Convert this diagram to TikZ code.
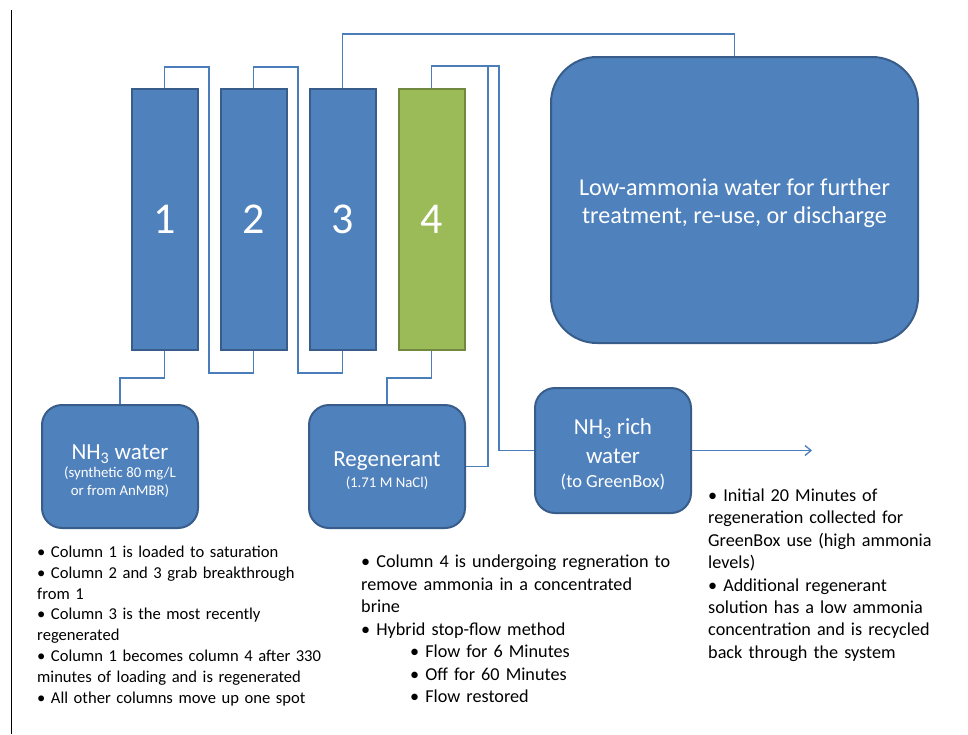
\documentclass[tikz,border=0pt]{standalone}
\usepackage{fontspec}
\setmainfont{Carlito}
\usetikzlibrary{arrows.meta}
\definecolor{boxblue}{HTML}{4F81BD}
\definecolor{boxedge}{HTML}{385D8A}
\definecolor{colgreen}{HTML}{9BBB59}
\definecolor{greenedge}{HTML}{71893F}
\definecolor{pipecol}{HTML}{4A7EBB}
\newcommand{\fbig}{\fontsize{23}{27}\selectfont}
\newcommand{\fsmall}{\fontsize{14.8}{18}\selectfont}
\newcommand{\fmid}{\fontsize{18.5}{24}\selectfont}
\newcommand{\strutdown}{\rule{0pt}{24pt}}
\begin{document}
\begin{tikzpicture}[x=1pt,y=-1pt,
  colbox/.style={draw=boxedge, fill=boxblue, line width=2pt, minimum width=66pt,
    minimum height=261pt, inner sep=0pt, text=white, font=\fontsize{44}{48}\selectfont},
  greencol/.style={colbox, draw=greenedge, fill=colgreen},
  tank/.style={draw=boxedge, fill=boxblue, line width=2pt, rounded corners=20pt,
    inner sep=0pt, text=white, align=center, font=\fbig},
  pipe/.style={draw=pipecol, line width=1.3pt},
  notes/.style={anchor=base west, inner sep=0pt, align=left, text width=#1},
]
\useasboundingbox (0,0) rectangle (968,734);
\fill[white] (0,0) rectangle (968,734);
\draw[line width=1pt, black] (11,10) -- (11,734);

% columns
\node[colbox] (c1) at (164.5,219.5) {1};
\node[colbox] (c2) at (253.5,219.5) {2};
\node[colbox] (c3) at (342.5,219.5) {3};
\node[greencol] (c4) at (431.5,219.5) {4};

% boxes
\node[tank, minimum width=156pt, minimum height=123pt] (nh3) at (120,466.5)
  {\strutdown NH\textsubscript{3} water\\[-9pt]
   \fsmall (synthetic 80 mg/L\\[-9pt] \fsmall or from AnMBR)};
\node[tank, minimum width=156pt, minimum height=123pt] (reg) at (387,466.5)
  {\strutdown Regenerant\\[-6pt]
   \fsmall (1.71 M NaCl)};
\node[tank, minimum width=156pt, minimum height=125pt] (rich) at (613,450.5)
  {\strutdown NH\textsubscript{3} rich\\[2pt] water\\[-3pt]
   \fmid (to GreenBox)};
\node[tank, rounded corners=46pt, minimum width=367pt, minimum height=286pt,
  font=\fontsize{24.2}{28}\selectfont] (big) at (734.5,200)
  {\rule{0pt}{24pt}Low-ammonia water for further\\treatment, re-use, or discharge};

% connectors
\coordinate (out) at (812,450.5);
\draw[pipe] (c1.north) -- (c1.north |- 0,67) -| (209,373) -| (c2.south);
\draw[pipe] (c2.north) -- (c2.north |- 0,67) -| (298,373) -| (c3.south);
\draw[pipe] (c3.north) -- (c3.north |- 0,34) -| (big.north);
\draw[pipe] (c1.south) -- (c1.south |- 0,378) -| (nh3.north);
\draw[pipe] (c4.south) -- (c4.south |- 0,378) -| (reg.north);
\draw[pipe] (c4.north) -- (c4.north |- 0,66) -- (499,66) |- (rich.west);
\draw[pipe] (488,66) |- (reg.east);
\draw[pipe, -{Straight Barb[length=6pt,width=10pt]}] (rich.east) -- (out);

% notes
\node[notes=320pt, font=\fontsize{16.6}{20.8}\selectfont] (n1) at (37,557.5)
  {• Column 1 is loaded to saturation\\
   • Column 2 and 3 grab breakthrough\\
   from 1\\
   • Column 3 is the most recently\\
   regenerated\\
   • Column 1 becomes column 4 after 330\\
   minutes of loading and is regenerated\\
   • All other columns move up one spot};
\node[notes=340pt, font=\fontsize{18.2}{22.5}\selectfont] (n2) at (361,567.5)
  {\makebox[304pt][s]{• Column 4 is undergoing regneration to}\\
   remove ammonia in a concentrated\\
   brine\\
   • Hybrid stop-flow method\\
   \hspace*{49pt}• Flow for 6 Minutes\\
   \hspace*{49pt}• Off for 60 Minutes\\
   \hspace*{49pt}• Flow restored};
\node[notes=250pt, font=\fontsize{18.2}{22.4}\selectfont] (n3) at (708,501.5)
  {• Initial 20 Minutes of\\
   regeneration collected for\\
   GreenBox use (high ammonia\\
   levels)\\
   • Additional regenerant\\
   solution has a low ammonia\\
   concentration and is recycled\\
   back through the system};
\end{tikzpicture}
\end{document}
